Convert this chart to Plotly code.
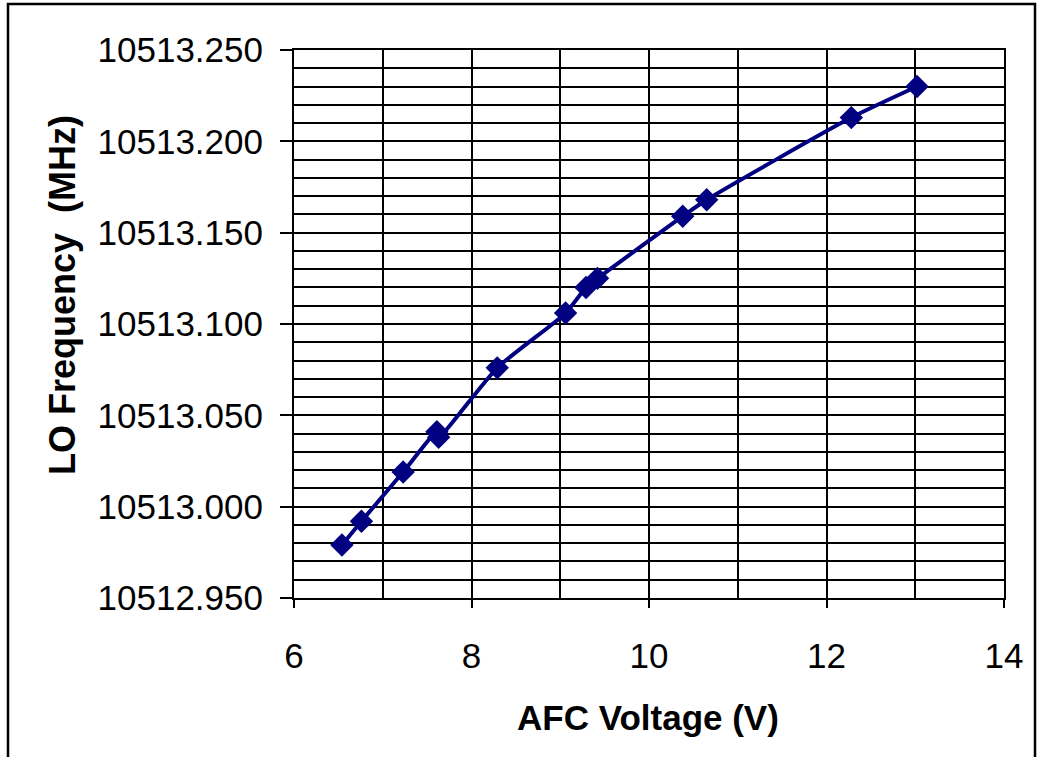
import plotly.graph_objects as go

# Data
afc_voltage = [6.54, 6.76, 7.23, 7.61, 7.63, 8.29, 9.06, 9.29, 9.42, 10.38, 10.65, 12.28, 13.02]
lo_frequency = [10512.979, 10512.992, 10513.019, 10513.041, 10513.038, 10513.076,
                10513.106, 10513.120, 10513.125, 10513.159, 10513.168, 10513.213, 10513.230]

x_range = [6, 14]
y_range = [10512.950, 10513.250]
x_title = "AFC Voltage (V)"
y_title = "LO Frequency  (MHz)"

W, H = 1037, 757
L, R, T, B = 294, 33, 50, 159
pw, ph = W - L - R, H - T - B

def px_x(p):
    return (p - L) / pw

def px_y(p):
    return (H - B - p) / ph

navy = "#000080"
font_family = "Liberation Sans, Arial, sans-serif"

fig = go.Figure()
fig.add_trace(go.Scatter(
    x=afc_voltage, y=lo_frequency, mode="lines+markers",
    line=dict(color=navy, width=4, shape="spline", smoothing=0.6),
    marker=dict(symbol="diamond", size=18, color=navy),
    showlegend=False, hoverinfo="x+y",
))

fig.update_layout(
    width=W, height=H,
    margin=dict(l=L, r=R, t=T, b=B),
    paper_bgcolor="white", plot_bgcolor="white",
    font=dict(family=font_family, color="black", size=35),
    xaxis=dict(
        range=x_range, dtick=2, tick0=6,
        showgrid=True, gridcolor="black", gridwidth=1.5,
        minor=dict(dtick=1, showgrid=True, gridcolor="black", gridwidth=1.5),
        showline=True, linecolor="black", linewidth=2, mirror=True,
        ticks="outside", ticklen=8, tickwidth=2, tickcolor="black",
        tickfont=dict(size=35), zeroline=False, ticklabelstandoff=18,
    ),
    yaxis=dict(
        range=y_range, dtick=0.05, tick0=10512.95, tickformat=".3f",
        showgrid=True, gridcolor="black", gridwidth=1.5,
        minor=dict(dtick=0.01, showgrid=True, gridcolor="black", gridwidth=1.5),
        showline=True, linecolor="black", linewidth=2, mirror=True,
        ticks="outside", ticklen=12, tickwidth=2, tickcolor="black",
        tickfont=dict(size=35), zeroline=False, ticklabelstandoff=10,
    ),
    annotations=[
        dict(text="<b>" + x_title + "</b>", xref="paper", yref="paper",
             x=px_x(648), y=px_y(717), xanchor="center", yanchor="middle",
             showarrow=False, font=dict(size=35)),
        dict(text="<b>" + y_title + "</b>", xref="paper", yref="paper",
             x=px_x(62), y=px_y(295), xanchor="center", yanchor="middle",
             textangle=-90, showarrow=False, font=dict(size=36)),
    ],
    shapes=[dict(
        type="rect", xref="paper", yref="paper",
        x0=px_x(8), x1=px_x(1035), y0=px_y(800), y1=px_y(4),
        line=dict(color="black", width=2.5), fillcolor="rgba(0,0,0,0)", layer="above",
    )],
)

fig.write_html("out.html")
